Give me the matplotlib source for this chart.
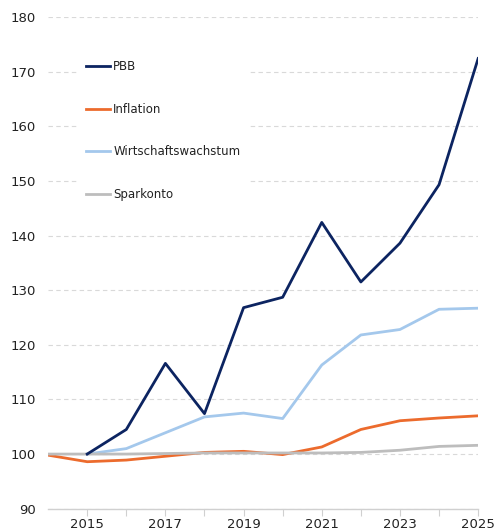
import numpy as np
import matplotlib
matplotlib.use("Agg")
import matplotlib.pyplot as plt

# Index values, base = 100
years_pbb = [2015, 2016, 2017, 2018, 2019, 2020, 2021, 2022, 2023, 2024, 2025]
pbb = [100.0, 104.5, 116.6, 107.4, 126.8, 128.7, 142.4, 131.5, 138.6, 149.3, 172.4]

years_infl = [2014, 2015, 2016, 2017, 2018, 2019, 2020, 2021, 2022, 2023, 2024, 2025]
inflation = [99.8, 98.6, 98.9, 99.6, 100.3, 100.5, 99.9, 101.3, 104.5, 106.1, 106.6, 107.0]

years_ww = [2015, 2016, 2017, 2018, 2019, 2020, 2021, 2022, 2023, 2024, 2025]
wachstum = [100.0, 101.0, 103.9, 106.8, 107.5, 106.5, 116.3, 121.8, 122.8, 126.5, 126.7]

years_spar = [2014, 2015, 2016, 2017, 2018, 2019, 2020, 2021, 2022, 2023, 2024, 2025]
sparkonto = [100.0, 100.0, 100.0, 100.1, 100.2, 100.2, 100.2, 100.2, 100.3, 100.7, 101.4, 101.6]

colors = {
    "PBB": "#0c2461",
    "Inflation": "#ec6b2d",
    "Wirtschaftswachstum": "#a4c8ec",
    "Sparkonto": "#bdbdbd",
}

fig = plt.figure(figsize=(4.96, 5.31), dpi=100)
ax = fig.add_axes([0.097, 0.042, 0.867, 0.926])

lw = 2.0
ax.plot(years_pbb, pbb, color=colors["PBB"], lw=lw, label="PBB", zorder=5)
ax.plot(years_infl, inflation, color=colors["Inflation"], lw=lw, label="Inflation", zorder=4)
ax.plot(years_ww, wachstum, color=colors["Wirtschaftswachstum"], lw=lw,
        label="Wirtschaftswachstum", zorder=3)
ax.plot(years_spar, sparkonto, color=colors["Sparkonto"], lw=lw, label="Sparkonto", zorder=4.5)

ax.set_xlim(2014, 2025)
ax.set_ylim(90, 180)
ax.set_yticks(np.arange(90, 181, 10))
ax.set_xticks(np.arange(2015, 2026, 1))
ax.set_xticklabels([str(y) if y % 2 == 1 else "" for y in range(2015, 2026)])

ax.grid(True, axis="y", color="#d9d9d9", linestyle=(0, (4, 3)), linewidth=0.8)
ax.set_axisbelow(True)
for s in ["left", "right", "top"]:
    ax.spines[s].set_visible(False)
ax.spines["bottom"].set_color("#d0d0d0")
ax.spines["bottom"].set_linewidth(1.0)

ax.tick_params(axis="y", length=0, labelsize=9.5, colors="#222222", pad=9)
ax.tick_params(axis="x", length=5, color="#d0d0d0", labelsize=9.5,
               labelcolor="#222222", pad=1.5)

leg = ax.legend(loc="upper left", bbox_to_anchor=(0.057, 0.938), frameon=True,
                facecolor="white", edgecolor="white", framealpha=1.0,
                fontsize=8.5, handlelength=2.1, handletextpad=0.25,
                labelspacing=2.5, borderpad=0.6)
leg.get_frame().set_linewidth(0)
for t in leg.get_texts():
    t.set_color("#222222")

fig.savefig("out.png", dpi=100)
